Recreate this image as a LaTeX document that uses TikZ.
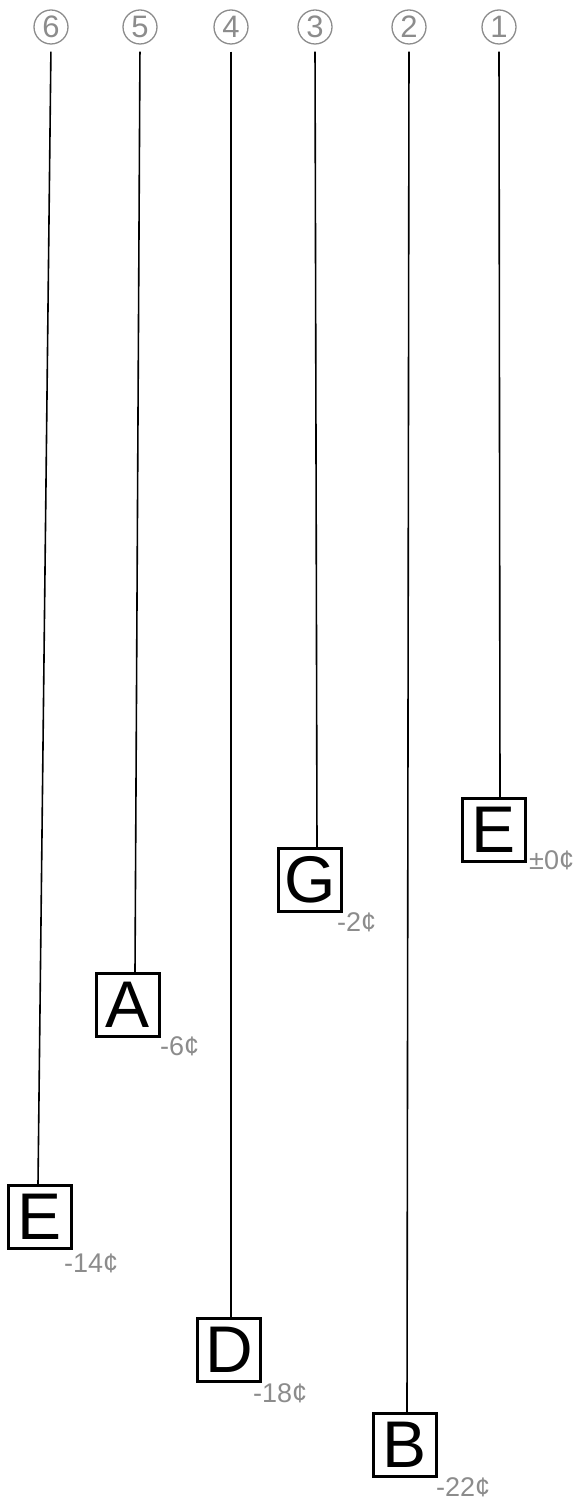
\documentclass[tikz,border=0pt]{standalone}
\usepackage{fontspec}
\setmainfont{Liberation Sans}
\definecolor{labelgray}{RGB}{140,140,140}
\begin{document}
\begin{tikzpicture}[x=1pt,y=-1pt,
  stringnum/.style={circle,draw=labelgray,line width=1.3pt,minimum size=34pt,inner sep=0pt,
    text=labelgray,font=\fontsize{31}{31}\selectfont},
  notebox/.style={draw=black,line width=2.2pt,minimum size=63pt,inner sep=0pt,
    font=\fontsize{66}{66}\selectfont},
  cents/.style={anchor=west,inner sep=0pt,text=labelgray,font=\fontsize{27}{27}\selectfont},
  stringline/.style={draw=black,line width=1.6pt,shorten <=7pt}]
\useasboundingbox (0,0) rectangle (580,1503);

% string numbers
\node[stringnum] (c6) at (51,27) {6};
\node[stringnum] (c5) at (140,27) {5};
\node[stringnum] (c4) at (231,27) {4};
\node[stringnum] (c3) at (315,27) {3};
\node[stringnum] (c2) at (409,27) {2};
\node[stringnum] (c1) at (499,27) {1};

% open-string notes
\node[notebox] (n6) at (40,1217) {E};
\node[notebox] (n5) at (128,1005) {A};
\node[notebox] (n4) at (229,1350) {D};
\node[notebox] (n3) at (310,880) {G};
\node[notebox] (n2) at (405,1445) {B};
\node[notebox] (n1) at (494,830) {E};

% cent deviations
\node[cents] (d6) at (64,1263) {-14¢};
\node[cents] (d5) at (160,1046) {-6¢};
\node[cents] (d4) at (253,1393) {-18¢};
\node[cents] (d3) at (337,922) {-2¢};
\node[cents] (d2) at (436,1487) {-22¢};
\node[cents] (d1) at (529,860) {±0¢};

% strings
\draw[stringline] (c6.south) -- ([xshift=-2pt]n6.north);
\draw[stringline] (c5.south) -- ([xshift=7pt]n5.north);
\draw[stringline] (c4.south) -- ([xshift=2pt]n4.north);
\draw[stringline] (c3.south) -- ([xshift=7pt]n3.north);
\draw[stringline] (c2.south) -- ([xshift=2pt]n2.north);
\draw[stringline] (c1.south) -- ([xshift=6pt]n1.north);
\end{tikzpicture}
\end{document}
